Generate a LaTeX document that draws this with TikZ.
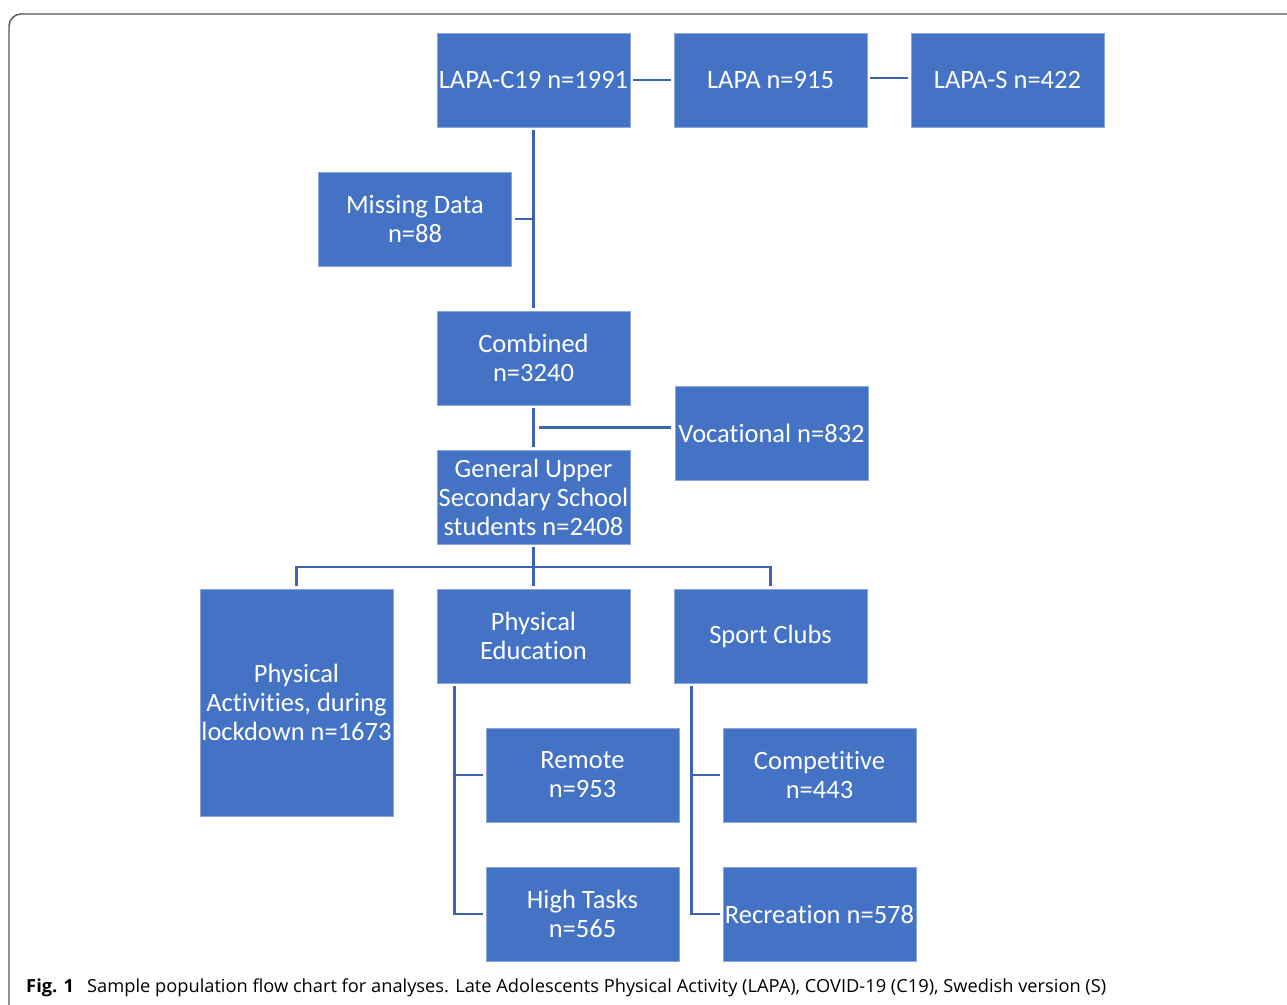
\documentclass[tikz,border=0pt]{standalone}
\usepackage{fontspec}
\usepackage{graphicx}
\usetikzlibrary{calc}
\newfontfamily\boxfont[RawFeature={-liga;-clig;-dlig}]{Carlito}
\newfontfamily\capfont{Open Sans}
\definecolor{boxblue}{HTML}{4472C4}
\definecolor{boxedge}{HTML}{8AA6DA}
\definecolor{connblue}{HTML}{3D64B0}
\definecolor{framegray}{HTML}{555555}
\tikzset{
  fbox/.style={rectangle, fill=boxblue, draw=boxedge, line width=0.8pt,
    minimum width=193pt, minimum height=94pt, inner sep=0pt,
    text=white, align=center, font={\boxfont\fontsize{26.5}{29}\selectfont}},
  conn/.style={draw=connblue, line width=2.6pt},
  gap/.style={shorten <=3pt, shorten >=3pt},
}
\begin{document}
\begin{tikzpicture}[x=1pt,y=-1pt]
\useasboundingbox (0,0) rectangle (1287,1004);
\draw[framegray, line width=1.4pt, rounded corners=12pt] (9,14) rectangle (1310,1030);

\node[fbox] (c19) at (533.5,80) {LAPA-C19 n=1991};
\node[fbox] (lapa) at (770.5,80) {LAPA n=915};
\node[fbox] (laps) at (1007.5,80) {LAPA-S n=422};
\node[fbox] (miss) at (415,219) {Missing Data\\n=88};
\node[fbox] (comb) at (533.5,358) {Combined\\n=3240};
\node[fbox] (voc) at (771.5,433) {Vocational n=832};
\node[fbox] (gus) at (533.5,497) {General Upper\\Secondary School\\students n=2408};
\node[fbox, minimum height=227pt] (pa) at (296.5,702.5) {Physical\\Activities, during\\lockdown n=1673};
\node[fbox] (pe) at (533.5,636) {Physical\\Education};
\node[fbox] (sc) at (770.5,636) {Sport Clubs};
\node[fbox] (rem) at (582.5,775) {Remote\\n=953};
\node[fbox] (comp) at (819.5,775) {Competitive\\n=443};
\node[fbox] (ht) at (582.5,914) {High Tasks\\n=565};
\node[fbox] (rec) at (819.5,914) {Recreation n=578};

% top row
\draw[conn, gap] (c19) -- (lapa);
\draw[conn, gap] ([yshift=2pt]lapa.east) -- ([yshift=2pt]laps.west);
% main trunk
\draw[conn, gap] (c19.south) -- (comb.north);
\draw[conn, shorten <=3pt] (miss.east) -- (miss.east -| c19.south);
\draw[conn, gap] (comb.south) -- (gus.north);
\coordinate (vmid) at ($(comb.south)!0.5!(gus.north)$);
\draw[conn, shorten <=4pt] (vmid -| voc.west) -- ([xshift=5pt]vmid);
% tree
\coordinate (bus) at (533.5,567);
\draw[conn, gap] (gus.south) -- (pe.north);
\draw[conn] ([yshift=3pt]pa.north) |- (bus) -| ([yshift=3pt]sc.north);
% PE branch
\coordinate (pev) at ([xshift=18pt,yshift=-3pt]pe.south west);
\draw[conn, shorten >=3pt] (pev) |- (ht.west);
\draw[conn, shorten <=3pt] (rem.west) -- (rem.west -| pev);
% SC branch
\coordinate (scv) at ([xshift=18pt,yshift=-3pt]sc.south west);
\draw[conn, shorten >=3pt] (scv) |- (rec.west);
\draw[conn, shorten <=3pt] (comp.west) -- (comp.west -| scv);

% caption
\node[anchor=base west, inner sep=0pt, font={\capfont\fontsize{18}{20}\selectfont}] (figlab) at (26,992)
  {\resizebox{48pt}{\height}{\bfseries Fig. 1}};
\node[anchor=base west, inner sep=0pt, font={\capfont\fontsize{18}{20}\selectfont}] (captxt) at (87,992)
  {\resizebox{1019pt}{\height}{Sample population flow chart for analyses. Late Adolescents Physical Activity (LAPA), COVID-19 (C19), Swedish version (S)}};
\end{tikzpicture}
\end{document}
